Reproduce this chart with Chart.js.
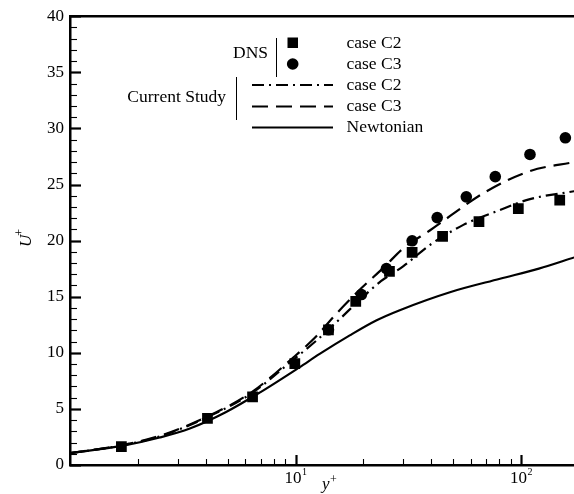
<!DOCTYPE html>
<html>
<head>
<meta charset="utf-8">
<script src="https://cdn.jsdelivr.net/npm/chart.js@4.4.1/dist/chart.umd.min.js"></script>
<style>
  html, body { margin: 0; padding: 0; background: #fff; }
  #wrap { width: 574px; height: 494px; }
</style>
</head>
<body>
<div id="wrap"><canvas id="c" width="574" height="494"></canvas></div>
<script>
// DNS reference data (symbols)
const dnsC2Y = [1.69, 4.07, 6.45, 9.93, 14.0, 18.5, 26.1, 32.9, 44.9, 65.1, 97.3, 148.5];
const dnsC2U = [1.63, 4.15, 6.07, 9.03, 12.05, 14.58, 17.26, 18.94, 20.37, 21.7, 22.85, 23.6];
const dnsC3Y = [14.0, 19.6, 25.3, 32.9, 42.5, 57.2, 76.9, 109.6, 157.3];
const dnsC3U = [12.05, 15.19, 17.5, 19.98, 22.05, 23.9, 25.7, 27.68, 29.16];

// Present model profiles (lines)
const studyC2Y = [1, 1.7, 2.5, 4, 6.4, 9.8, 12.4, 15.7, 19, 24, 30, 39.4, 55.5, 80, 109.6, 172];
const studyC2U = [1.05, 1.75, 2.55, 4.2, 6.4, 9.4, 11.1, 13.0, 14.6, 16.4, 17.7, 19.6, 21.4, 22.7, 23.7, 24.4];
const studyC3Y = [1, 1.7, 2.5, 4, 6.4, 9.8, 12.4, 15.2, 19, 24.9, 30, 39.4, 70.4, 109.6, 172];
const studyC3U = [1.05, 1.78, 2.6, 4.25, 6.5, 9.6, 11.5, 13.5, 15.5, 17.7, 19.3, 20.9, 24.4, 26.2, 27.0];
const newtY = [1, 1.7, 2.5, 3.4, 4.9, 7, 10.4, 12.8, 17.4, 22.9, 29, 48.4, 80.7, 120, 172];
const newtU = [1.05, 1.7, 2.45, 3.25, 4.7, 6.5, 8.7, 9.9, 11.55, 12.9, 13.8, 15.4, 16.6, 17.5, 18.5];

// Axis settings
const uTicks = [0, 5, 10, 15, 20, 25, 30, 35, 40];
const yDecades = [1, 10, 100];
const yDecadeExp = ['0', '1', '2'];

const SERIF = '"Liberation Serif", "DejaVu Serif", serif';

function pts(xs, ys) { return xs.map((x, i) => ({ x: x, y: ys[i] })); }

const dsDnsC2 = {
  label: 'DNS case C2', data: pts(dnsC2Y, dnsC2U), showLine: false,
  pointStyle: 'rect', pointRadius: 7.6, backgroundColor: '#000', borderColor: '#000', borderWidth: 0
};
const dsDnsC3 = {
  label: 'DNS case C3', data: pts(dnsC3Y, dnsC3U), showLine: false,
  pointStyle: 'circle', pointRadius: 5.8, backgroundColor: '#000', borderColor: '#000', borderWidth: 0
};
const dsStudyC2 = {
  label: 'Current Study case C2', data: pts(studyC2Y, studyC2U), showLine: true,
  borderColor: '#000', borderWidth: 2.2, borderDash: [12, 5, 2, 5], pointRadius: 0,
  cubicInterpolationMode: 'monotone'
};
const dsStudyC3 = {
  label: 'Current Study case C3', data: pts(studyC3Y, studyC3U), showLine: true,
  borderColor: '#000', borderWidth: 2.2, borderDash: [16, 8], pointRadius: 0,
  cubicInterpolationMode: 'monotone'
};
const dsNewt = {
  label: 'Newtonian', data: pts(newtY, newtU), showLine: true,
  borderColor: '#000', borderWidth: 2.2, pointRadius: 0,
  cubicInterpolationMode: 'monotone'
};

// Frame, inward ticks, decade labels, axis titles and grouped legend
const decor = {
  id: 'decor',
  afterDraw(chart) {
    const ctx = chart.ctx;
    const a = chart.chartArea;
    const xs = chart.scales.x, ys = chart.scales.y;
    ctx.save();
    ctx.strokeStyle = '#000';
    ctx.fillStyle = '#000';

    // top frame line
    ctx.lineWidth = 2.5;
    ctx.beginPath(); ctx.moveTo(a.left, a.top); ctx.lineTo(a.right, a.top); ctx.stroke();

    // y ticks (inward)
    for (let v = 0; v <= 40; v++) {
      const py = Math.round(ys.getPixelForValue(v)) + 0.5;
      const major = v % 5 === 0;
      ctx.lineWidth = major ? 2.2 : 1.1;
      ctx.beginPath(); ctx.moveTo(a.left, py); ctx.lineTo(a.left + (major ? 11 : 7), py); ctx.stroke();
    }
    // x ticks (inward)
    for (let d = 1; d <= 100; d *= 10) {
      for (let m = 1; m <= 9; m++) {
        const v = d * m;
        if (v <= xs.min || v > xs.max) continue;
        const px = Math.round(xs.getPixelForValue(v)) + 0.5;
        const major = m === 1;
        ctx.lineWidth = major ? 2.2 : 1.1;
        ctx.beginPath(); ctx.moveTo(px, a.bottom); ctx.lineTo(px, a.bottom - (major ? 10 : 6)); ctx.stroke();
      }
    }

    // decade labels 10^n
    yDecades.forEach((v, i) => {
      if (v <= xs.min) return;
      const px = xs.getPixelForValue(v);
      ctx.font = '17px ' + SERIF;
      const w1 = ctx.measureText('10').width;
      ctx.font = '10px ' + SERIF;
      const w2 = ctx.measureText(yDecadeExp[i]).width;
      const x0 = px - (w1 + w2) / 2;
      ctx.textAlign = 'left'; ctx.textBaseline = 'alphabetic';
      ctx.font = '17px ' + SERIF;
      ctx.fillText('10', x0, a.bottom + 18);
      ctx.font = '10px ' + SERIF;
      ctx.fillText(yDecadeExp[i], x0 + w1 + 0.5, a.bottom + 10);
    });

    // x axis title y+
    ctx.font = 'italic 17px ' + SERIF;
    ctx.fillText('y', 322, 489);
    ctx.font = '12px ' + SERIF;
    ctx.fillText('+', 330, 483);

    // y axis title U+
    ctx.save();
    ctx.translate(31, 247);
    ctx.rotate(-Math.PI / 2);
    ctx.font = 'italic 17px ' + SERIF;
    ctx.textAlign = 'left';
    ctx.fillText('U', 0, 0);
    const uw = ctx.measureText('U').width;
    ctx.font = '12px ' + SERIF;
    ctx.fillText('+', uw - 1, -8);
    ctx.restore();

    // grouped legend
    ctx.font = '17.5px ' + SERIF;
    ctx.textBaseline = 'middle';
    ctx.textAlign = 'right';
    ctx.fillText('DNS', 268, 53);
    ctx.fillText('Current Study', 226, 97);
    ctx.lineWidth = 1;
    ctx.beginPath(); ctx.moveTo(276.5, 38); ctx.lineTo(276.5, 77); ctx.stroke();
    ctx.beginPath(); ctx.moveTo(236.5, 77); ctx.lineTo(236.5, 120); ctx.stroke();

    // symbols
    ctx.fillRect(287.5, 37.5, 10.5, 10.5);
    ctx.beginPath(); ctx.arc(292.7, 64, 5.8, 0, Math.PI * 2); ctx.fill();

    // line samples
    const sample = (ds, y) => {
      ctx.lineWidth = ds.borderWidth;
      ctx.setLineDash(ds.borderDash || []);
      ctx.beginPath(); ctx.moveTo(252, y); ctx.lineTo(333, y); ctx.stroke();
      ctx.setLineDash([]);
    };
    sample(dsStudyC2, 85);
    sample(dsStudyC3, 106.5);
    sample(dsNewt, 127.5);

    ctx.textAlign = 'left';
    ctx.fillText('case C2', 346.5, 43);
    ctx.fillText('case C3', 346.5, 64);
    ctx.fillText('case C2', 346.5, 85);
    ctx.fillText('case C3', 346.5, 106.5);
    ctx.fillText('Newtonian', 346.5, 127.5);
    ctx.restore();
  }
};

new Chart(document.getElementById('c'), {
  type: 'scatter',
  data: { datasets: [dsNewt, dsStudyC3, dsStudyC2, dsDnsC2, dsDnsC3] },
  options: {
    responsive: false,
    animation: false,
    devicePixelRatio: 1,
    layout: { autoPadding: false, padding: { top: 15, right: 0, bottom: 0, left: 0 } },
    plugins: { legend: { display: false }, tooltip: { enabled: false } },
    scales: {
      x: {
        type: 'logarithmic',
        min: 1,
        max: 171.8,
        grid: { display: false, drawTicks: false },
        border: { display: true, color: '#000', width: 2.5 },
        ticks: { display: false },
        afterFit(scale) { scale.height = 29; scale.paddingLeft = 0; scale.paddingRight = 0; }
      },
      y: {
        type: 'linear',
        min: 0,
        max: 40,
        grid: { display: false, drawTicks: false },
        border: { display: true, color: '#000', width: 2.5 },
        ticks: {
          stepSize: 5,
          padding: 6,
          color: '#000',
          font: { family: SERIF, size: 17 },
          callback: (v) => uTicks.includes(v) ? String(v) : ''
        },
        afterFit(scale) { scale.width = 70; }
      }
    }
  },
  plugins: [decor]
});
</script>
</body>
</html>
